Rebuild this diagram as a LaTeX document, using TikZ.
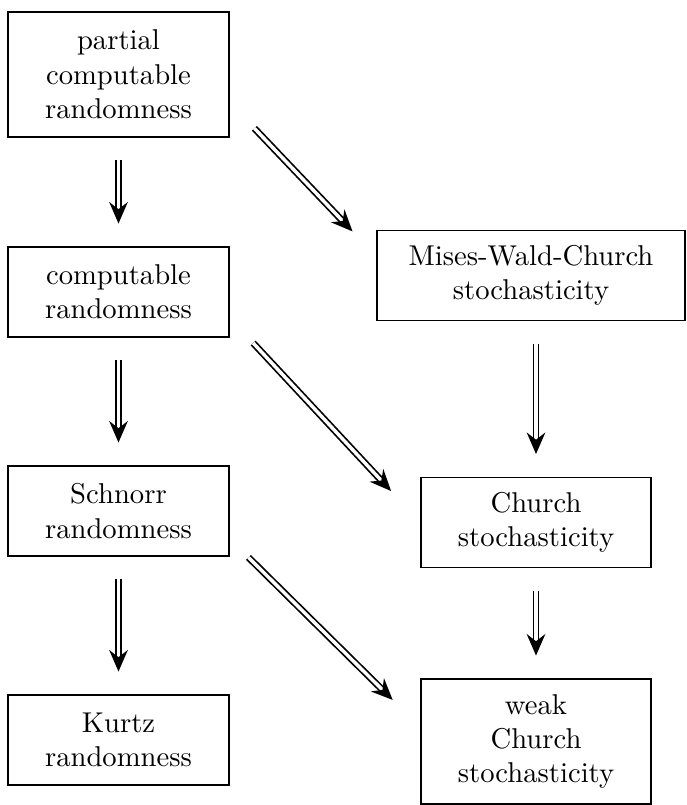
\documentclass[tikz,border=0pt]{standalone}
\usepackage{amsmath}
\usepackage{tikz}
\usetikzlibrary{arrows.meta}
\tikzset{randbox/.style={draw, align=center, inner sep=0pt, minimum width=77.1pt, minimum height=31.4pt},
    stochbox/.style={draw, align=center, inner sep=0pt, minimum width=80.3pt, minimum height=31.4pt},
    implies/.style={double, line width=0.6pt, double distance=1.2pt, -{Stealth[length=7.5pt,width=6.5pt,inset=2.5pt]}, shorten <=8pt, shorten >=8pt},
}

\begin{document}
\begin{tikzpicture}[x=1pt,y=1pt]
		\useasboundingbox (0,0) rectangle (239.44,-280.98);
		\node[randbox, minimum height=43.6pt] (pcr) at (41.36,-26.0) {partial\\computable\\randomness};
		\node[randbox] (cr) at (41.36,-101.92) {computable\\randomness};
		\node[randbox] (sr) at (41.36,-178.36) {Schnorr\\randomness};
		\node[randbox] (kr) at (41.36,-258.29) {Kurtz\\randomness};
		\node[stochbox, minimum width=107.5pt] (mwc) at (185.34,-96.16) {Mises-Wald-Church\\stochasticity};
		\node[stochbox] (cs) at (187.09,-182.37) {Church\\stochasticity};
		\node[stochbox, minimum height=43.6pt] (wcs) at (187.09,-258.81) {weak\\Church\\stochasticity};
		\draw[implies] (pcr) -- (cr);
		\draw[implies] (cr) -- (sr);
		\draw[implies] (sr) -- (kr);
		\draw[implies] (mwc.south -| cs.north) -- (cs.north);
		\draw[implies] (cs) -- (wcs);
		\draw[implies, shorten <=12.6pt, shorten >=12.1pt] (pcr.-14) -- (mwc.173.5);
		\draw[implies, shorten <=12.1pt, shorten >=15pt] (cr.-13) -- (cs.180);
		\draw[implies, shorten <=9.3pt, shorten >=13.6pt] (sr.-14.7) -- (wcs.173);
\end{tikzpicture}
\end{document}
